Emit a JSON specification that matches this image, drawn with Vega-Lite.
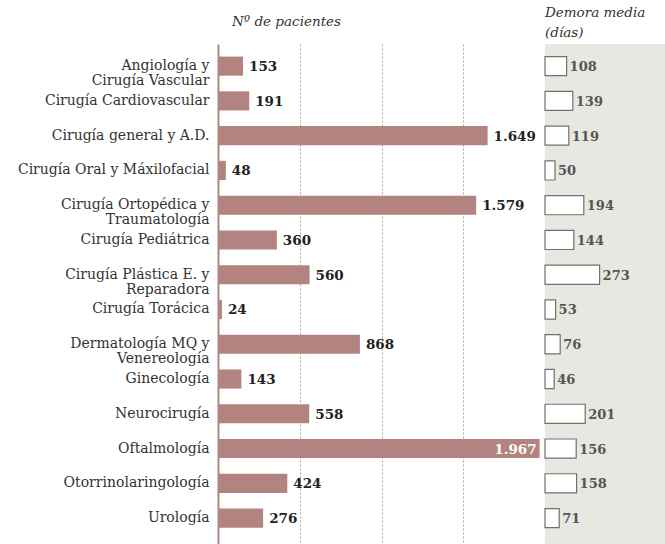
{
  "$schema": "https://vega.github.io/schema/vega-lite/v6.json",
  "padding": {"left": 17, "top": 5, "right": 0, "bottom": 0},
  "bounds": "flush",
  "spacing": 0,
  "config": {
    "font": "DejaVu Serif",
    "view": {"stroke": null},
    "locale": {"number": {"decimal": ",", "thousands": ".", "grouping": [3], "currency": ["", " €"]}}
  },
  "data": {"values": [
    {"esp": "Angiología y|Cirugía Vascular", "pacientes": 153, "demora": 108},
    {"esp": "Cirugía Cardiovascular", "pacientes": 191, "demora": 139},
    {"esp": "Cirugía general y A.D.", "pacientes": 1649, "demora": 119},
    {"esp": "Cirugía Oral y Máxilofacial", "pacientes": 48, "demora": 50},
    {"esp": "Cirugía Ortopédica y|Traumatología", "pacientes": 1579, "demora": 194},
    {"esp": "Cirugía Pediátrica", "pacientes": 360, "demora": 144},
    {"esp": "Cirugía Plástica E. y|Reparadora", "pacientes": 560, "demora": 273},
    {"esp": "Cirugía Torácica", "pacientes": 24, "demora": 53},
    {"esp": "Dermatología MQ y|Venereología", "pacientes": 868, "demora": 76},
    {"esp": "Ginecología", "pacientes": 143, "demora": 46},
    {"esp": "Neurocirugía", "pacientes": 558, "demora": 201},
    {"esp": "Oftalmología", "pacientes": 1967, "demora": 156},
    {"esp": "Otorrinolaringología", "pacientes": 424, "demora": 158},
    {"esp": "Urología", "pacientes": 276, "demora": 71}
  ]},
  "hconcat": [
    {
      "width": 327,
      "height": 501,
      "title": {"text": "Nº de pacientes", "anchor": "start", "frame": "group", "dx": 14, "offset": 16, "font": "DejaVu Serif", "fontStyle": "italic", "fontWeight": "normal", "fontSize": 13.5, "color": "#333333"},
      "encoding": {
        "y": {"field": "esp", "type": "nominal", "sort": null,
          "scale": {"paddingInner": 0.45, "paddingOuter": 0.43, "align": 0.42},
          "axis": {"title": null, "ticks": false, "domain": true, "domainColor": "#b08682", "domainWidth": 2,
            "labelExpr": "split(datum.label, '|')", "labelFont": "DejaVu Serif", "labelFontSize": 14,
            "labelColor": "#333333", "labelPadding": 9, "labelLineHeight": 15, "labelLimit": 300}}
      },
      "layer": [
        {
          "mark": {"type": "bar", "color": "#b3847f"},
          "encoding": {
            "x": {"field": "pacientes", "type": "quantitative", "scale": {"domain": [0, 2000], "nice": false},
              "axis": {"orient": "top", "values": [500, 1000, 1500, 2000], "labels": false, "ticks": false, "domain": false,
                "title": null, "grid": true, "gridDash": [2, 2], "gridColor": "#c39a96", "gridWidth": 1}}
          }
        },
        {
          "transform": [{"filter": "datum.pacientes < 1900"}],
          "mark": {"type": "text", "align": "left", "baseline": "middle", "dx": 6, "dy": 1, "fontWeight": "bold", "fontSize": 13.5, "color": "#222222"},
          "encoding": {
            "x": {"field": "pacientes", "type": "quantitative"},
            "text": {"field": "pacientes", "type": "quantitative", "format": ",d"}
          }
        },
        {
          "transform": [{"filter": "datum.pacientes >= 1900"}],
          "mark": {"type": "text", "align": "right", "baseline": "middle", "dx": -3, "dy": 1, "fontWeight": "bold", "fontSize": 13.5, "color": "#ffffff"},
          "encoding": {
            "x": {"field": "pacientes", "type": "quantitative"},
            "text": {"field": "pacientes", "type": "quantitative", "format": ",d"}
          }
        }
      ]
    },
    {
      "width": 120,
      "height": 501,
      "view": {"fill": "#e8e8e3", "stroke": null},
      "title": {"text": ["Demora media", "(días)"], "anchor": "start", "frame": "group", "dx": 0, "offset": 5, "lineHeight": 20, "font": "DejaVu Serif", "fontStyle": "italic", "fontWeight": "normal", "fontSize": 13.5, "color": "#333333"},
      "encoding": {
        "y": {"field": "esp", "type": "nominal", "sort": null,
          "scale": {"paddingInner": 0.45, "paddingOuter": 0.43, "align": 0.42}, "axis": null}
      },
      "layer": [
        {
          "mark": {"type": "bar", "fill": "#ffffff", "stroke": "#707070", "strokeWidth": 1.2},
          "encoding": {
            "x": {"field": "demora", "type": "quantitative", "scale": {"domain": [0, 600], "nice": false}, "axis": null}
          }
        },
        {
          "mark": {"type": "text", "align": "left", "baseline": "middle", "dx": 3, "dy": 1, "fontWeight": "bold", "fontSize": 13, "color": "#555555"},
          "encoding": {
            "x": {"field": "demora", "type": "quantitative"},
            "text": {"field": "demora", "type": "quantitative", "format": ",d"}
          }
        }
      ]
    }
  ]
}
